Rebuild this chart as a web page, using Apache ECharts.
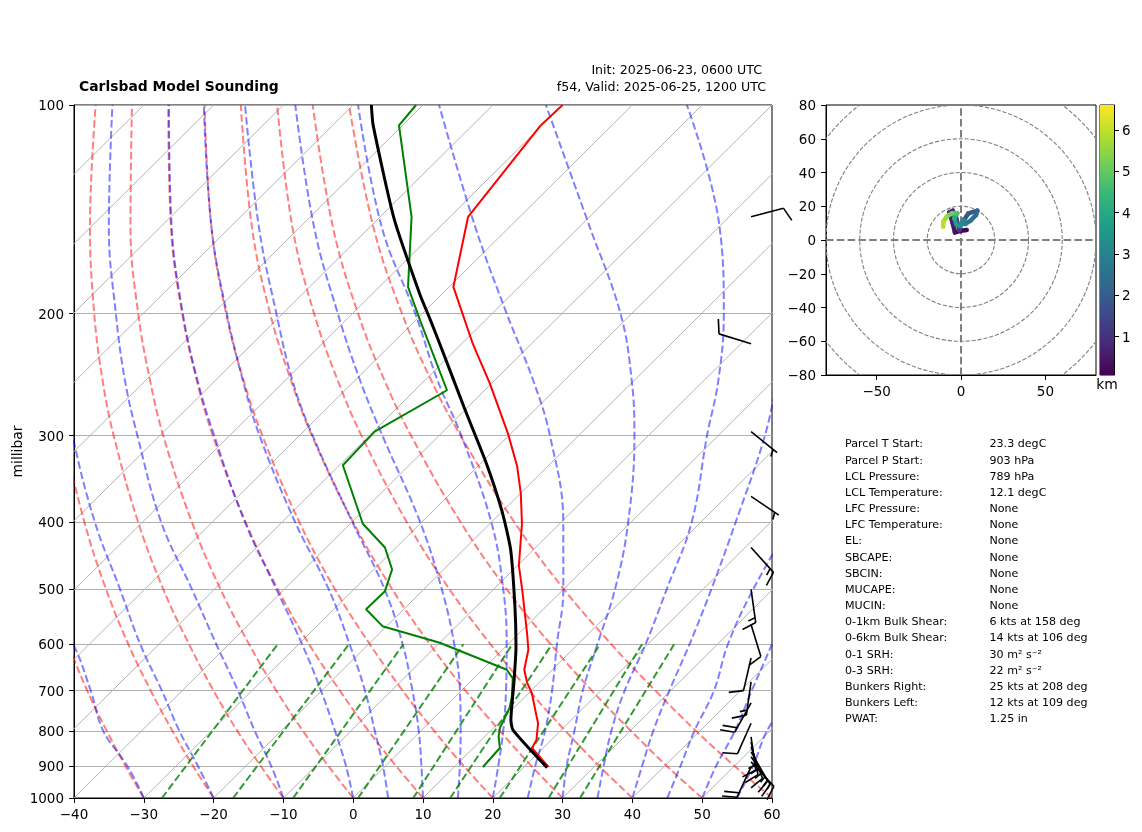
<!DOCTYPE html>
<html><head><meta charset="utf-8">
<style>html,body{margin:0;padding:0;background:#fff}#c{width:1142px;height:832px}</style>
<script src="https://cdn.jsdelivr.net/npm/echarts@6/dist/echarts.min.js"></script>
</head><body><div id="c"></div>
<script>
const FONT='"DejaVu Sans"';
const pressureTicks=[100,200,300,400,500,600,700,800,900,1000];
const tempTicks=[-40,-30,-20,-10,0,10,20,30,40,50,60];
const isothermTemps=[-130,-120,-110,-100,-90,-80,-70,-60,-50,-40,-30,-20,-10,0,10,20,30,40,50,60];
const adiabatLevels=[1000,900,800,700,600,500,400,300,250,200,150,100];
const dryM40=[-40,-46.9,-54.4,-62.6,-71.7,-81.9,-93.7,-107.9,-116.3,-125.9,-137.6,-152.4];
const dryM30=[-30,-37.2,-45.0,-53.6,-63.0,-73.7,-86.0,-100.8,-109.5,-119.6,-131.8,-147.2];
const dryM20=[-20,-27.5,-35.6,-44.5,-54.4,-65.5,-78.3,-93.7,-102.8,-113.3,-125.9,-142.0];
const dryM10=[-10,-17.8,-26.3,-35.5,-45.7,-57.3,-70.6,-86.6,-96.1,-107.0,-120.1,-136.9];
const dry0=[0,-8.1,-16.9,-26.5,-37.1,-49.1,-62.9,-79.5,-89.3,-100.7,-114.3,-131.7];
const dry10=[10,1.6,-7.5,-17.4,-28.5,-40.9,-55.2,-72.4,-82.6,-94.4,-108.5,-126.5];
const dry20=[20,11.3,1.9,-8.4,-19.8,-32.7,-47.5,-65.3,-75.9,-88.1,-102.7,-121.3];
const dry30=[30,21.0,11.3,0.6,-11.2,-24.5,-39.8,-58.2,-69.1,-81.8,-96.9,-116.1];
const dry40=[40,30.7,20.7,9.7,-2.5,-16.3,-32.1,-51.1,-62.4,-75.5,-91.1,-110.9];
const dry50=[50,40.4,30.1,18.7,6.1,-8.1,-24.4,-44.0,-55.7,-69.2,-85.3,-105.8];
const dry60=[60,50.1,39.4,27.8,14.8,0.1,-16.7,-36.9,-49.0,-62.9,-79.5,-100.6];
const moistM30=[-30,-36.9,-45.5,-53.1,-62.3,-75];
const moistM20=[-20,-26.8,-34.6,-42.9,-52.7,-63.5,-76.8,-92.5,-101.7];
const moistM10=[-10,-16.3,-23.8,-32.0,-41.8,-53.2,-67.3,-83.2,-92.9,-103.9,-117.4,-134.5];
const moist0=[0,-5.6,-12.3,-20.1,-29.5,-41.1,-55.3,-72.2,-82.5,-94.3,-108.4,-126.4];
const moist5=[5,-0.3,-6.6,-13.8,-22.7,-33.6,-48.1,-65.7,-76,-88,-102.7,-121.4];
const moist10=[10,5.2,-0.3,-7,-15.1,-25.6,-39.9,-58.1,-68.9,-80.9,-95.9,-115.5];
const moist15=[15,10.7,5.7,-0.2,-7.7,-17.4,-30.2,-48.1,-59.2,-72.1,-88,-108.3];
const moist20=[20,16.2,11.8,6.4,-0.2,-8.6,-20,-36.8,-48.1,-61,-78.3,-99.3];
const moist25=[25,21.5,17.8,13,7,0,-9.7,-24.1,-34.4,-47.9,-64.9,-87.7];
const moist30=[30,26,22,17.4,12.8,7.4,-0.4,-12,-20.3,-31.6,-48.5,-72.4];
const moist35=[35,31.3,27.3,23.4,19.7,14.8,8.7,-1.6,-7.9,-16.8,-29.9,-52.2];
const moist40=[40,36.8,33.3,29.8,26,21.2,15,6.7,0.5];
const moist45=[45,42.3,39.2,36.2,31.5,27.2,23];
const moist50=[50,47.4,45,41.6,37.8,33];
const moist55=[55,52.7,49.6,47.5];
const mixLevels=[1000,600];
const mixAt1000=[-27.4,-17.2,-8.6,0.7,8.6,13.9,21,28,32.5];
const mixAt600=[-33,-22.8,-15,-6.4,0.6,6.3,13.2,19.2,23.8];
const profileP=[100,107,145,183,220,228,252,298,332,363,402,462,501,532,578,611,653,682,705,764,780,825,847,902];
const profileT=[-70.0,-70.2,-67.4,-59.4,-48.7,-46.5,-40.3,-30.4,-24.4,-20,-15.4,-9.8,-5.8,-2.9,1.1,3.7,6,8.3,10.4,14.6,15.7,17.9,18.4,23.5];
const dewP=[100,107,145,183,205,258,296,331,402,435,468,503,534,565,597,653,672,714,741,792,814,847,902];
const dewT=[-91.0,-90.5,-75.5,-65.9,-59.2,-45.4,-49.8,-49.5,-38.2,-31.6,-27.4,-25.3,-25.4,-20.6,-10,3.5,5.6,8.1,9.4,10.9,11.9,13.8,14.1];
const parcelP=[100,107,146,188,203,228,273,329,384,438,530,605,682,771,798,904];
const parcelT=[-97.4,-94.2,-77.7,-63,-58.3,-51.3,-40.5,-29.2,-20.3,-13.3,-4.4,1.5,6.4,11.3,13.1,23.4];
const windP=[145,221,296,367,435,500,562,628,680,729,780,816,830,844,858,872,887,902];
const windDir=[75,287,129,124,138,172,163,193,188,209,204,172,168,160,150,145,137,205];
const windSpeed=[10,10,5,5,15,15,10,10,15,20,10,15,15,15,15,15,15,20];
const hodoU=[3.4,-0.2,-3.6,-4.9,-6.9,-4.9,-3,-1,-0.2,1.8,4.4,9.7,8.9,5.7,2.4,1.4,-0.2,-2.6,-4,-2.2,-5.5,-8.5,-10.5,-10.5];
const hodoV=[5.9,5.5,4.5,9.9,16.4,17.4,13.8,5.9,8.9,11.9,15.8,17.4,14.8,11.5,9.5,11.9,8.3,8.9,12.9,15.8,15.8,13.8,10.9,7.9];
const hodoH=[0.07,0.15,0.25,0.4,0.6,0.8,1.0,1.15,1.3,1.5,1.7,2.0,2.2,2.4,2.6,2.9,3.1,3.3,3.6,4.1,4.8,5.2,5.6,5.9];
const hodoRings=[20,40,60,80,100];
const hodoXTicks=[-50,0,50];
const hodoYTicks=[-80,-60,-40,-20,0,20,40,60,80];
const colorbarTicks=[1,2,3,4,5,6];
const viridis=['#440154','#482878','#3e4989','#31688e','#26828e','#1f9e89','#35b779','#6ece58','#b5de2b','#fde725'];
const tableLabels=['Parcel T Start:','Parcel P Start:','LCL Pressure:','LCL Temperature:','LFC Pressure:','LFC Temperature:','EL:','SBCAPE:','SBCIN:','MUCAPE:','MUCIN:','0-1km Bulk Shear:','0-6km Bulk Shear:','0-1 SRH:','0-3 SRH:','Bunkers Right:','Bunkers Left:','PWAT:'];
const tableValues=['23.3 degC','903 hPa','789 hPa','12.1 degC','None','None','None','None','None','None','None','6 kts at 158 deg','14 kts at 106 deg','30 m² s⁻²','22 m² s⁻²','25 kts at 208 deg','12 kts at 109 deg','1.25 in'];

const skew=(t,p)=>[t+100*Math.log10(1000/p),Math.log10(p)];
const minus=v=>String(v).replace('-','\u2212');
const base={type:'line',symbol:'none',silent:true,animation:false,xAxisIndex:0,yAxisIndex:0};
const series=[];
isothermTemps.forEach(t=>series.push({...base,z:2,data:[skew(t,1000),skew(t,100)],lineStyle:{color:'#b4b4b4',width:1}}));
[dryM40,dryM30,dryM20,dryM10,dry0,dry10,dry20,dry30,dry40,dry50,dry60].forEach(r=>series.push({...base,z:3,smooth:0.4,
  data:r.map((t,i)=>skew(t,adiabatLevels[i])),lineStyle:{color:'#ff0000',opacity:.5,width:2,type:[7.5,3.3]}}));
[moistM30,moistM20,moistM10,moist0,moist5,moist10,moist15,moist20,moist25,moist30,moist35,moist40,moist45,moist50,moist55].forEach(r=>series.push({...base,z:3,smooth:0.4,
  data:r.map((t,i)=>skew(t,adiabatLevels[i])),lineStyle:{color:'#0000ff',opacity:.5,width:2,type:[7.5,3.3]}}));
mixAt1000.forEach((t,i)=>series.push({...base,z:3,data:[skew(t,mixLevels[0]),skew(mixAt600[i],mixLevels[1])],
  lineStyle:{color:'#008000',opacity:.8,width:2,type:[7.5,3.3]}}));
series.push({...base,z:5,data:profileP.map((p,i)=>skew(profileT[i],p)),lineStyle:{color:'#ff0000',width:2}});
series.push({...base,z:5,data:dewP.map((p,i)=>skew(dewT[i],p)),lineStyle:{color:'#008000',width:2}});
series.push({...base,z:6,smooth:0.2,data:parcelP.map((p,i)=>skew(parcelT[i],p)),lineStyle:{color:'#000000',width:3}});
// wind barbs
series.push({type:'custom',silent:true,animation:false,xAxisIndex:0,yAxisIndex:0,z:7,clip:false,
  data:windP.map((p,i)=>[57,Math.log10(p),windDir[i],windSpeed[i]]),
  encode:{x:0,y:1},
  renderItem(params,api){
    const b=api.coord([api.value(0),api.value(1)]);
    const d=api.value(2)*Math.PI/180,s=api.value(3);
    const a=[Math.sin(d),-Math.cos(d)],r=[Math.cos(d),Math.sin(d)];
    const L=33.5,style={stroke:'#000',lineWidth:1.6,fill:null};
    const tip=[b[0]+a[0]*L,b[1]+a[1]*L];
    const kids=[{type:'line',shape:{x1:b[0],y1:b[1],x2:tip[0],y2:tip[1]},style}];
    let off=0,full=Math.floor(s/10),half=(s%10)>=5;
    if(full===0&&half)off=5;
    const tick=(o,al,pe)=>{const q=[tip[0]-a[0]*o,tip[1]-a[1]*o];
      kids.push({type:'line',shape:{x1:q[0],y1:q[1],x2:q[0]+a[0]*al+r[0]*pe,y2:q[1]+a[1]*al+r[1]*pe},style});};
    for(let i=0;i<full;i++){tick(off,5,14);off+=5;}
    if(half)tick(off,2.5,7);
    return {type:'group',children:kids};
  }});
// hodograph
const hbase={...base,xAxisIndex:1,yAxisIndex:1};
series.push({type:'custom',silent:true,animation:false,xAxisIndex:1,yAxisIndex:1,z:2,clip:true,
  data:hodoRings.map(r=>[0,0,r]),encode:{x:0,y:1},
  renderItem(params,api){
    const c=api.coord([0,0]),r=api.size([api.value(2),api.value(2)])[0];
    return {type:'circle',shape:{cx:c[0],cy:c[1],r},style:{fill:null,stroke:'#808080',lineWidth:1.1,lineDash:[4.2,1.8]}};
  }});
series.push({...hbase,z:3,data:[[-80,0],[80,0]],lineStyle:{color:'#808080',width:2,type:[7.5,3.3]}});
series.push({...hbase,z:3,data:[[0,-80],[0,80]],lineStyle:{color:'#808080',width:2,type:[7.5,3.3]}});
const hodoIndex=series.length;
series.push({type:'custom',silent:true,animation:false,xAxisIndex:1,yAxisIndex:1,z:5,clip:true,
  data:hodoU.map((u,i)=>[u,hodoV[i],hodoH[i]]),encode:{x:0,y:1},
  renderItem(params,api){
    const i=params.dataIndex;if(i===0)return null;
    const p0=api.coord([hodoU[i-1],hodoV[i-1]]),p1=api.coord([api.value(0),api.value(1)]);
    return {type:'line',shape:{x1:p0[0],y1:p0[1],x2:p1[0],y2:p1[1]},style:{stroke:api.visual('color'),lineWidth:4.5,lineCap:'round'}};
  }});
// colorbar
series.push({type:'bar',silent:true,animation:false,xAxisIndex:2,yAxisIndex:2,barWidth:'100%',data:[6.6],
  itemStyle:{color:{type:'linear',x:0,y:0,x2:0,y2:1,colorStops:viridis.slice().reverse().map((c,i)=>({offset:i/(viridis.length-1),color:c}))}}});

const axisCommon={axisLine:{show:true,onZero:false,lineStyle:{color:'#000',width:1}},
  axisTick:{show:true,inside:false,length:5,lineStyle:{color:'#000',width:1}},
  axisLabel:{color:'#000',fontFamily:FONT,fontSize:13.5,margin:10,hideOverlap:false,showMinLabel:true,showMaxLabel:true}};
const yLabel={...axisCommon.axisLabel,verticalAlign:'top',lineHeight:3};
const xLabel={...axisCommon.axisLabel,margin:10};
const graphics=[];
const txt=(x,y,text,fs,o={})=>graphics.push({type:'text',x,y,silent:true,style:{text,fontFamily:FONT,fontSize:fs,fill:'#000',textVerticalAlign:'middle',textAlign:o.align||'left',fontWeight:o.w||'normal'}});
txt(79,87.5,'Carlsbad Model Sounding',13.9,{w:'bold'});
txt(762,70.5,'Init: 2025-06-23, 0600 UTC',12.6,{align:'right'});
txt(766,87.5,'f54, Valid: 2025-06-25, 1200 UTC',12.6,{align:'right'});
txt(1107,385,'km',13.9,{align:'center'});
tableLabels.forEach((l,i)=>{const y=444.5+i*16.17;txt(845,y,l,11.1);txt(989.5,y,tableValues[i],11.1);});

const chart=echarts.init(document.getElementById('c'),null,{renderer:'canvas',width:1142,height:832});
const gridCommon={show:true,borderColor:'#000',borderWidth:1,backgroundColor:'transparent',containLabel:false,outerBoundsMode:'none'};
chart.setOption({animation:false,backgroundColor:'#fff',
  grid:[
    {...gridCommon,left:74,top:105,width:698,height:693},
    {...gridCommon,left:826,top:105,width:270,height:270},
    {...gridCommon,left:1100,top:105,width:14,height:270}],
  visualMap:[{show:false,type:'continuous',seriesIndex:hodoIndex,dimension:2,min:0.07,max:6.6,inRange:{color:viridis}}],
  xAxis:[
    {...axisCommon,type:'value',gridIndex:0,min:-40,max:60,interval:10,splitLine:{show:false},
     axisLabel:{...xLabel,customValues:tempTicks,formatter:minus}},
    {...axisCommon,type:'value',gridIndex:1,min:-80,max:80,splitLine:{show:false},
     axisTick:{...axisCommon.axisTick,customValues:hodoXTicks},
     axisLabel:{...xLabel,customValues:hodoXTicks,formatter:minus}},
    {type:'category',gridIndex:2,data:[''],show:false}],
  yAxis:[
    {...axisCommon,type:'value',gridIndex:0,min:2,max:3,inverse:true,
     name:'millibar',nameLocation:'middle',nameGap:49,nameMoveOverlap:false,nameRotate:90,nameTextStyle:{color:'#000',fontFamily:FONT,fontSize:13.9},
     axisTick:{...axisCommon.axisTick,customValues:pressureTicks.map(Math.log10)},
     axisLabel:{...yLabel,customValues:pressureTicks.map(Math.log10),formatter:v=>String(Math.round(Math.pow(10,v)))},
     splitLine:{show:true,lineStyle:{color:'#b0b0b0',width:1}}},
    {...axisCommon,type:'value',gridIndex:1,min:-80,max:80,interval:20,splitLine:{show:false},
     axisTick:{...axisCommon.axisTick,customValues:hodoYTicks},
     axisLabel:{...yLabel,customValues:hodoYTicks,formatter:minus}},
    {...axisCommon,type:'value',gridIndex:2,position:'right',min:0.07,max:6.6,splitLine:{show:false},
     axisTick:{...axisCommon.axisTick,customValues:colorbarTicks},
     axisLabel:{...yLabel,margin:8,customValues:colorbarTicks}}],
  series,graphic:graphics});
</script></body></html>
